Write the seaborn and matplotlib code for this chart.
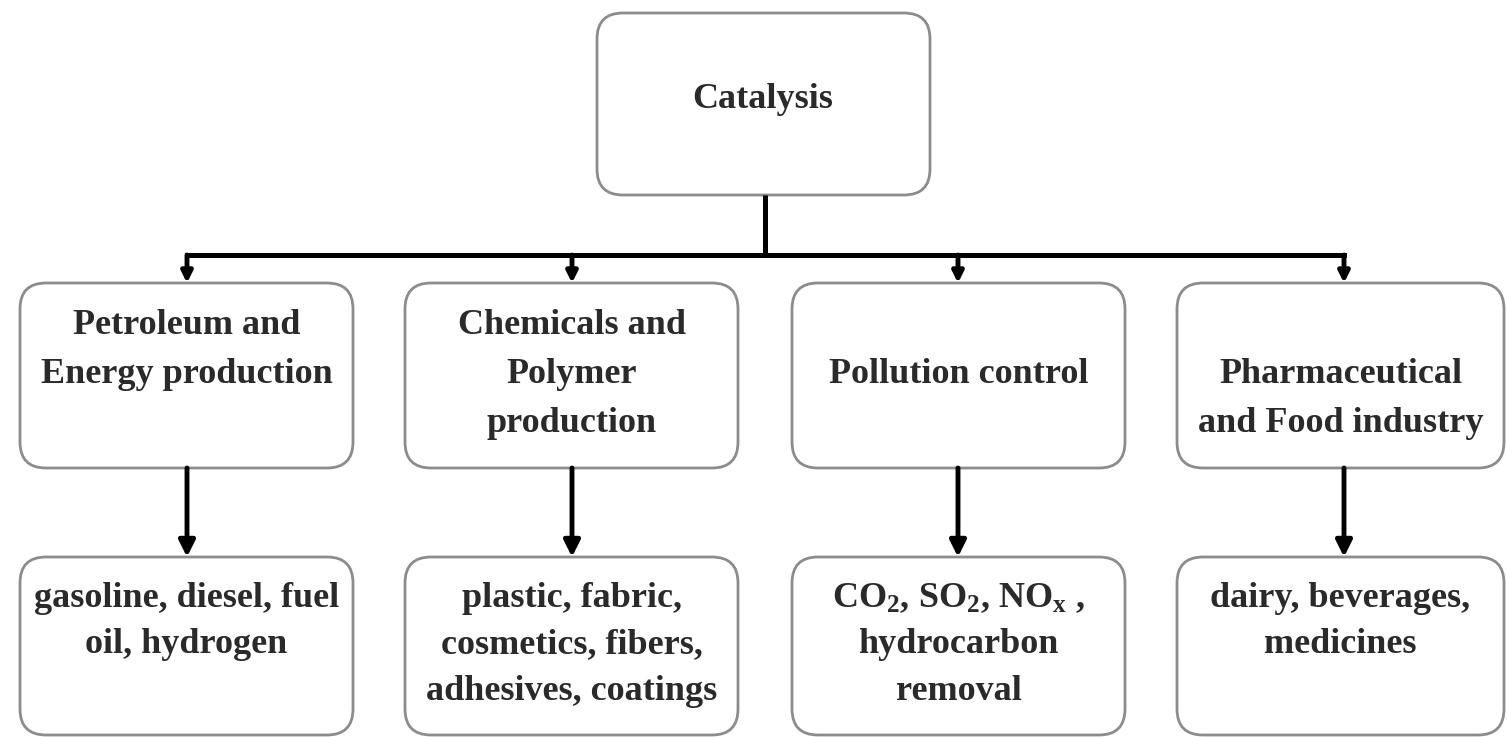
"""
Catalysis application flowchart
"""

import matplotlib
matplotlib.use("Agg")
import matplotlib.pyplot as plt
import seaborn as sns
from matplotlib.patches import FancyBboxPatch

# Diagram content
top_label = ["Catalysis"]
mid_labels = [
    ["Petroleum and", "Energy production"],
    ["Chemicals and", "Polymer", "production"],
    ["Pollution control"],
    ["Pharmaceutical", "and Food industry"],
]
bottom_labels = [
    ["gasoline, diesel, fuel", "oil, hydrogen"],
    ["plastic, fabric,", "cosmetics, fibers,", "adhesives, coatings"],
    [r"CO$_2$, SO$_2$, NO$_\mathrm{x}$ ,", "hydrocarbon", "removal"],
    ["dairy, beverages,", "medicines"],
]

sns.set_theme(style="white")
plt.rcParams["font.family"] = ["Liberation Serif", "DejaVu Serif"]
plt.rcParams["font.weight"] = "bold"
plt.rcParams["mathtext.fontset"] = "custom"
plt.rcParams["mathtext.rm"] = "Liberation Serif:bold"
plt.rcParams["mathtext.bf"] = "Liberation Serif:bold"
plt.rcParams["mathtext.it"] = "Liberation Serif:bold:italic"

W, H = 1507, 737
fig = plt.figure(figsize=(W / 100, H / 100), dpi=100)
ax = fig.add_axes([0, 0, 1, 1])
ax.set_xlim(0, W)
ax.set_ylim(H, 0)
ax.axis("off")

BOX_EDGE = "#8c8c8c"
TEXT_COLOR = "#2a2a2a"
FS = 26

# layout (pixel coords, y down)
col_left = [20, 405, 792, 1177]
col_w = [333, 333, 333, 327]
col_x = [187, 572, 958, 1344]
mid_top, mid_bot = 283, 468
bot_top, bot_bot = 557, 735
mid_base = [334, 383, 432]
bot_base = [607, 653, 700]
mid_first_slot = [0, 0, 1, 1]


def draw_box(x0, y0, w, h):
    box = FancyBboxPatch((x0, y0), w, h,
                         boxstyle="round,pad=0,rounding_size=26",
                         facecolor="white", edgecolor=BOX_EDGE, lw=2.0)
    ax.add_patch(box)


def draw_lines(cx, baselines, lines):
    for y, txt in zip(baselines, lines):
        ax.text(cx, y, txt, ha="center", va="baseline", fontsize=FS,
                fontweight="bold", color=TEXT_COLOR)


def draw_arrow(x, y0, y1, scale):
    ax.annotate("", xy=(x, y1), xytext=(x, y0),
                arrowprops=dict(arrowstyle="-|>", color="black", lw=3.5,
                                mutation_scale=scale, shrinkA=0, shrinkB=0))


# top box
draw_box(597, 13, 333, 182)
draw_lines(763, [108], top_label)

# connectors
ax.plot([765, 765], [195, 255], color="black", lw=3.6, solid_capstyle="butt")
ax.plot([col_x[0], col_x[-1]], [255, 255], color="black", lw=3.6,
        solid_capstyle="projecting")
for x in col_x:
    draw_arrow(x, 255, mid_top, 16)
    draw_arrow(x, mid_bot, bot_top, 24)

# middle row
for i, lines in enumerate(mid_labels):
    draw_box(col_left[i], mid_top, col_w[i], mid_bot - mid_top)
    s = mid_first_slot[i]
    draw_lines(col_left[i] + col_w[i] / 2, mid_base[s:s + len(lines)], lines)

# bottom row
for i, lines in enumerate(bottom_labels):
    draw_box(col_left[i], bot_top, col_w[i], bot_bot - bot_top)
    draw_lines(col_left[i] + col_w[i] / 2, bot_base[:len(lines)], lines)

fig.savefig("out.png", dpi=100, facecolor="white")
